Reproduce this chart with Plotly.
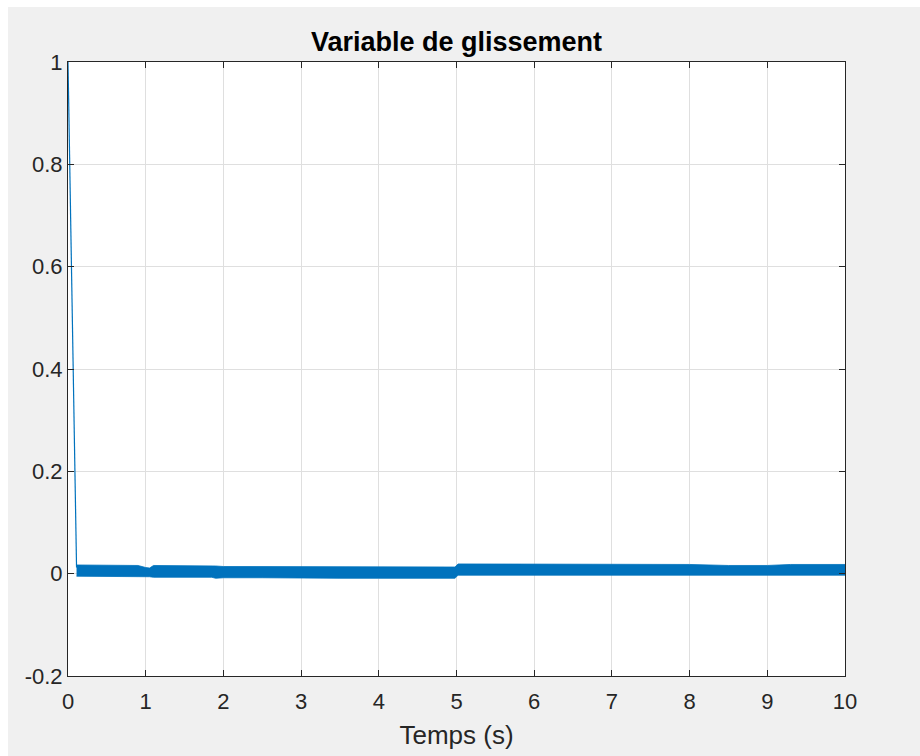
import plotly.graph_objects as go

# --- data ---
drop_t = [0.0, 0.11]
drop_s = [1.0, 0.012]

band_t = [0.11, 0.5, 0.9, 1.0, 1.05, 1.1, 1.5, 1.85, 1.9, 2.0, 2.5, 3.0, 3.5, 4.0, 4.5, 4.98,
          5.02, 5.5, 6.0, 6.5, 7.0, 7.5, 8.0, 8.5, 9.0, 9.3, 9.5, 10.0]
band_upper = [0.017, 0.017, 0.016, 0.012, 0.011, 0.016, 0.016, 0.015, 0.015, 0.014, 0.014, 0.013,
              0.013, 0.013, 0.013, 0.013,
              0.019, 0.019, 0.019, 0.019, 0.019, 0.019, 0.018, 0.016, 0.016, 0.018, 0.018, 0.018]
band_lower = [-0.005, -0.005, -0.006, -0.006, -0.006, -0.007, -0.007, -0.007, -0.009, -0.008, -0.008, -0.009,
              -0.009, -0.009, -0.009, -0.009,
              -0.003, -0.003, -0.003, -0.003, -0.003, -0.003, -0.003, -0.004, -0.004, -0.003, -0.003, -0.003]

x_ticks = [0, 1, 2, 3, 4, 5, 6, 7, 8, 9, 10]
x_tick_labels = ["0", "1", "2", "3", "4", "5", "6", "7", "8", "9", "10"]
y_ticks = [-0.2, 0.0, 0.2, 0.4, 0.6, 0.8, 1.0]
y_tick_labels = ["-0.2", "0", "0.2", "0.4", "0.6", "0.8", "1"]

blue = "#0072BD"
axis_col = "#262626"
font_family = "Liberation Sans, Arial, sans-serif"

fig = go.Figure()
fig.add_trace(go.Scatter(x=drop_t, y=drop_s, mode="lines",
                         line=dict(color=blue, width=1.2), showlegend=False, hoverinfo="skip"))
fig.add_trace(go.Scatter(x=band_t, y=band_lower, mode="lines",
                         line=dict(color=blue, width=0.8), showlegend=False, hoverinfo="skip"))
fig.add_trace(go.Scatter(x=band_t, y=band_upper, mode="lines", fill="tonexty",
                         fillcolor=blue, line=dict(color=blue, width=0.8),
                         showlegend=False, hoverinfo="skip"))

axis_common = dict(
    showline=True, linecolor=axis_col, linewidth=1, mirror="ticks",
    ticks="inside", ticklen=6, tickcolor=axis_col, tickwidth=1,
    showgrid=True, gridcolor="#dfdfdf", gridwidth=1, zeroline=False,
    tickfont=dict(family=font_family, size=22, color=axis_col),
)

fig.update_layout(
    width=920, height=756,
    margin=dict(l=68, r=75, t=62, b=80),
    paper_bgcolor="#f0f0f0", plot_bgcolor="white",
    title=dict(text="<b>Variable de glissement</b>", x=0.5, xref="paper", xanchor="center",
               y=1 - 42 / 756, yref="container", yanchor="middle",
               font=dict(family=font_family, size=27, color="black")),
    xaxis=dict(range=[0, 10], tickvals=x_ticks, ticktext=x_tick_labels,
               ticklabelstandoff=6,
               title=dict(text="Temps (s)", standoff=12,
                          font=dict(family=font_family, size=26, color=axis_col)),
               **axis_common),
    yaxis=dict(range=[-0.2, 1.0], tickvals=y_ticks, ticktext=y_tick_labels, **axis_common),
    shapes=[
        dict(type="rect", xref="paper", yref="paper", x0=-0.2, x1=1.2,
             y0=(676 - 7) / 614, y1=1.3, fillcolor="white", line=dict(width=0), layer="below"),
        dict(type="rect", xref="paper", yref="paper", x0=-0.2, x1=(8 - 68) / 777,
             y0=-0.3, y1=1.3, fillcolor="white", line=dict(width=0), layer="below"),
    ],
)

fig.write_html("out.html")
